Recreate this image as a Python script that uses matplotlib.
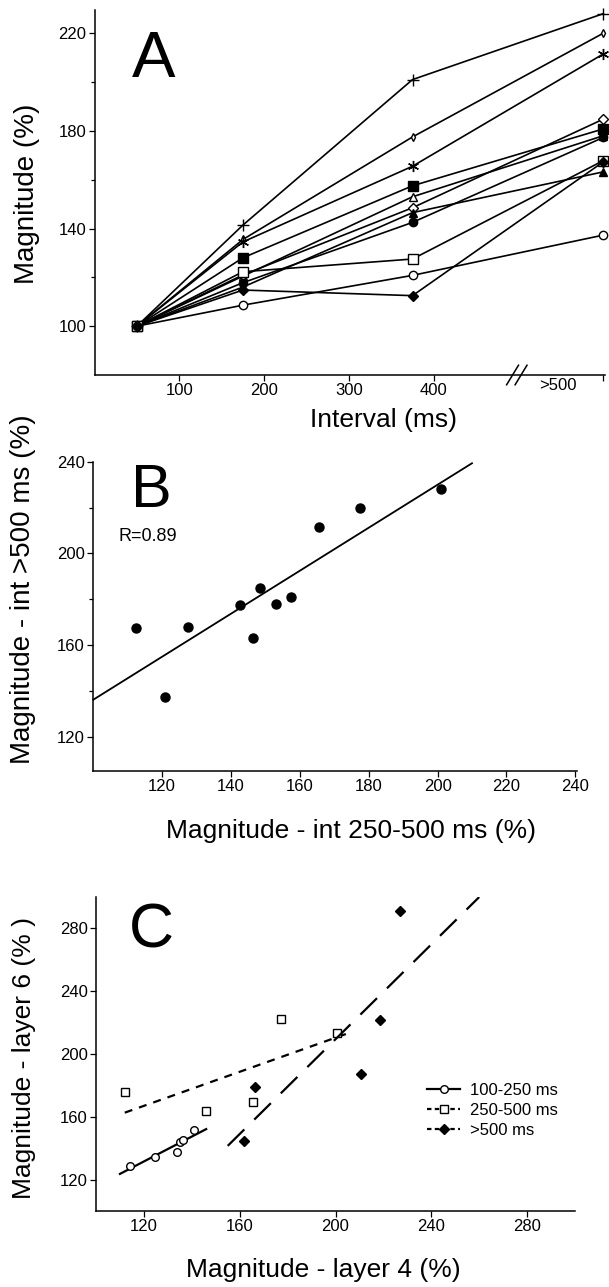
import matplotlib.pyplot as plt
import numpy as np
from matplotlib.lines import Line2D

plt.rcParams['font.family'] = ['Liberation Sans', 'DejaVu Sans']

# A: magnitude (%) per cell at each interval (600 = the ">500" column)
intervals = [50, 175, 375, 600]
mag_50 = [100, 100, 100, 100, 100, 100, 100, 100, 100, 100, 100]
mag_175 = [141.4, 135.5, 134.5, 128.0, 120.5, 121.0, 116.0, 117.8, 122.3, 108.6, 114.8]
mag_375 = [201.0, 177.5, 165.5, 157.5, 153.0, 148.5, 146.5, 142.5, 127.5, 120.8, 112.5]
mag_gt500 = [228.0, 220.0, 211.5, 180.8, 178.0, 184.8, 163.2, 177.3, 167.8, 137.3, 167.3]

markers = ['+', 'd', (6, 2, 0), 's', '^', 'D', '^', 'o', 's', 'o', 'D']
fills = ['k', 'w', 'k', 'k', 'w', 'w', 'k', 'k', 'w', 'w', 'k']
msizes = [9, 4, 8, 6.5, 6, 5.5, 6, 6, 6.5, 6, 5]

# C: layer 4 vs layer 6 magnitude (%)
l4_short = [114.2, 124.8, 133.8, 135.1, 136.5, 140.8]
l6_short = [128.9, 134.2, 137.4, 143.7, 145.0, 151.8]
l4_mid = [112.1, 146.1, 165.5, 177.4, 200.8]
l6_mid = [176.1, 163.4, 169.4, 222.3, 213.2]
l4_long = [161.7, 166.2, 210.5, 218.7, 227.1]
l6_long = [144.4, 178.7, 187.2, 221.7, 291.2]

W, H = 609, 1287
fig = plt.figure(figsize=(W / 100, H / 100), dpi=100)


def axes_px(left, top, right, bottom):
    return fig.add_axes([left / W, 1 - bottom / H, (right - left) / W, (bottom - top) / H])


def style(ax):
    for s in ('top', 'right'):
        ax.spines[s].set_visible(False)
    for s in ('left', 'bottom'):
        ax.spines[s].set_linewidth(1.1)
    ax.tick_params(which='both', direction='out', width=0.9, labelsize=12, pad=2)
    ax.tick_params(which='major', length=4)
    ax.tick_params(which='minor', length=3)


# ---- panel A
axA = axes_px(94.5, 10, 605, 375)
style(axA)
for i in range(len(mag_50)):
    vals = [mag_50[i], mag_175[i], mag_375[i], mag_gt500[i]]
    axA.plot(intervals, vals, '-', color='k', lw=1.2, marker=markers[i], ms=msizes[i],
             mfc=fills[i], mec='k', mew=1.0, clip_on=False)
axA.set_xlim(0, 602)
axA.set_ylim(80, 229.5)
axA.set_xticks([100, 200, 300, 400, 600], ['100', '200', '300', '400', ''])
axA.set_xticks([546], ['>500'], minor=True)
axA.tick_params(axis='x', which='minor', length=0)
axA.set_yticks([100, 140, 180, 220])
axA.set_yticks([120, 160, 200], minor=True)
for dx in (-5, 5):
    axA.plot([498 + dx - 7, 498 + dx + 7], [76, 84], color='k', lw=1.1, clip_on=False)
fig.text(132 / W, 1 - 76.7 / H, 'A', fontsize=47, ha='left', va='baseline')
fig.text(27.5 / W, 1 - 193.5 / H, 'Magnitude (%)', fontsize=20, rotation=90, ha='center', va='center')
fig.text(383 / W, 1 - 420 / H, 'Interval (ms)', fontsize=19, ha='center', va='center')

# ---- panel B
axB = axes_px(93.3, 461.7, 577, 771)
style(axB)
axB.plot(mag_375, mag_gt500, 'o', color='k', ms=6.5, clip_on=False)
fit = np.polyfit(mag_375, mag_gt500, 1)
xx = np.array([100, 210])
axB.plot(xx, np.polyval(fit, xx), color='k', lw=1.3, clip_on=False)
axB.set_xlim(100, 240.5)
axB.set_ylim(105, 240)
axB.set_xticks(np.arange(120, 241, 20))
axB.set_yticks([120, 160, 200, 240])
axB.set_yticks([140, 180, 220], minor=True)
fig.text(131 / W, 1 - 507 / H, 'B', fontsize=44, ha='left', va='baseline')
fig.text(119 / W, 1 - 540.7 / H, 'R=0.89', fontsize=13, ha='left', va='baseline')
fig.text(23 / W, 1 - 589 / H, 'Magnitude - int >500 ms (%)', fontsize=20, rotation=90,
         ha='center', va='center')
fig.text(351 / W, 1 - 831 / H, 'Magnitude - int 250-500 ms (%)', fontsize=19, ha='center', va='center')

# ---- panel C
axC = axes_px(96, 897, 575, 1211)
style(axC)
sets = [
    (l4_short, l6_short, 'o', 'w', 5.5, '-', (110, 146), '100-250 ms'),
    (l4_mid, l6_mid, 's', 'w', 6, (0, (3.6, 3.2)), (112, 205), '250-500 ms'),
    (l4_long, l6_long, 'D', 'k', 5, (0, (10.5, 6.3)), (155, 260), '>500 ms'),
]
handles = []
for x, y, m, fc, ms, ls, rng, lab in sets:
    f = np.polyfit(x, y, 1)
    xr = np.array(rng)
    axC.plot(xr, np.polyval(f, xr), color='k', lw=1.6, linestyle=ls)
    axC.plot(x, y, m, mfc=fc, mec='k', mew=1.0, ms=ms, linestyle='none')
    handles.append(Line2D([], [], color='k', lw=1.6, linestyle=ls if ls == '-' else (0, (2, 1.5)),
                          marker=m, mfc=fc, mec='k', ms=ms, label=lab))
axC.set_xlim(100, 300)
axC.set_ylim(100, 300)
axC.set_xticks([120, 160, 200, 240, 280])
axC.set_yticks([120, 160, 200, 240, 280])
axC.legend(handles=handles, loc='center left', bbox_to_anchor=(0.691, 0.32), frameon=False,
           fontsize=12, handlelength=2.0, handletextpad=0.6, labelspacing=0.3,
           borderpad=0, borderaxespad=0)
fig.text(129 / W, 1 - 948 / H, 'C', fontsize=45, ha='left', va='baseline')
fig.text(24.5 / W, 1 - 1058 / H, 'Magnitude - layer 6 (% )', fontsize=19, rotation=90,
         ha='center', va='center')
fig.text(323 / W, 1 - 1270 / H, 'Magnitude - layer 4 (%)', fontsize=19, ha='center', va='center')

fig.savefig('out.png', dpi=100)
